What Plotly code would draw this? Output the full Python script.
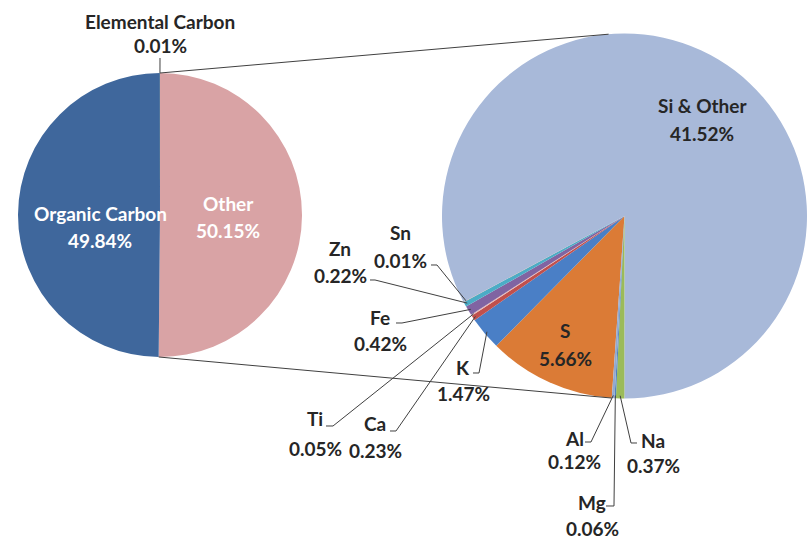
import math
import plotly.graph_objects as go

W, H = 807, 541

# ---------------- data ----------------
main_labels = ["Other", "Organic Carbon", "Elemental Carbon"]
main_values = [50.15, 49.84, 0.01]

sub_labels = ["S", "K", "Ca", "Ti", "Fe", "Zn", "Sn", "Si & Other", "Na", "Mg", "Al"]
sub_values = [5.66, 1.47, 0.23, 0.05, 0.42, 0.22, 0.01, 41.52, 0.37, 0.06, 0.12]

# ---------------- style ----------------
main_colors = ["#D9A3A5", "#3F679C", "#9BBB59"]
sub_colors = ["#DB7B36", "#4A7FC6", "#C0504D", "#E6B9B8", "#8064A2",
              "#4BACC6", "#F79646", "#A8B9D9", "#9BBB59", "#4F81BD", "#93A9CF"]

FONT = "Lato"
FS = 19
DARK = "#262626"
LINE = "#404040"

MAIN_C = (160, 215)
MAIN_R = 142
SUB_X0 = 442
SUB_CY = 216
SUB_HALF = (W - SUB_X0) / 2.0
SUB_C = ((SUB_X0 + W) / 2.0, SUB_CY)
SUB_R = SUB_HALF
SUB_ROT = 184

# label positions (pixels): name centre, value centre, text colour
main_label_pos = {
    "Other": (228, 203, 230, "white"),
    "Organic Carbon": (100, 213, 240, "white"),
    "Elemental Carbon": (160, 22, 46, DARK),
}
sub_label_pos = {
    "Si & Other": (702, 105, 133),
    "S": (565, 330, 358),
    "K": (463, 367, 393),
    "Ca": (375, 423, 450),
    "Ti": (315, 418, 448),
    "Fe": (380, 317, 343),
    "Zn": (340, 248, 275),
    "Sn": (400, 232, 260),
    "Na": (653, 440, 465),
    "Mg": (592, 502, 528),
    "Al": (574, 438, 461),
}
# leader line start points (pixels) near the labels
leader_start = {
    "Elemental Carbon": [(160, 58)],
    "Sn": [(431, 265), (437, 265)],
    "Zn": [(370, 280), (375, 280)],
    "Fe": [(396, 323), (402, 323)],
    "Ti": [(326, 426), (333, 426)],
    "Ca": [(390, 431), (396, 431)],
    "K": [(473, 373), (479, 373)],
    "Al": [(585, 442), (591, 442)],
    "Mg": [(606, 506), (614, 506)],
    "Na": [(637, 443), (631, 443)],
}


def px(x):
    return x / W


def py(y):
    return 1 - y / H


def slice_angles(values, rotation):
    tot = sum(values)
    out = []
    a = rotation
    for v in values:
        b = a + v / tot * 360.0
        out.append((a, b))
        a = b
    return out


def on_circle(c, r, ang):
    t = math.radians(ang)
    return (c[0] + r * math.sin(t), c[1] - r * math.cos(t))


fig = go.Figure()

fig.add_trace(go.Pie(
    labels=main_labels, values=main_values, sort=False, direction="clockwise",
    rotation=0, textinfo="none", hoverinfo="label+value",
    marker=dict(colors=main_colors, line=dict(width=0)),
    domain=dict(x=[px(MAIN_C[0] - MAIN_R), px(MAIN_C[0] + MAIN_R)],
                y=[py(MAIN_C[1] + MAIN_R), py(MAIN_C[1] - MAIN_R)]),
    showlegend=False,
))

fig.add_trace(go.Pie(
    labels=sub_labels, values=sub_values, sort=False, direction="clockwise",
    rotation=SUB_ROT, textinfo="none", hoverinfo="label+value",
    marker=dict(colors=sub_colors, line=dict(width=0)),
    domain=dict(x=[px(SUB_X0), 1.0],
                y=[py(SUB_CY + SUB_HALF), py(SUB_CY - SUB_HALF)]),
    showlegend=False,
))

annotations = []
shapes = []


def add_label(name, value, xn, yn, yv, color):
    for txt, yy in ((name, yn), (f"{value:.2f}%", yv)):
        annotations.append(dict(
            x=px(xn), y=py(yy), xref="paper", yref="paper", text=txt,
            showarrow=False, xanchor="center", yanchor="middle",
            font=dict(family=FONT, size=FS, color=color, weight="bold"),
        ))


def add_path(points):
    d = "M " + " L ".join(f"{px(x):.5f},{py(y):.5f}" for x, y in points)
    shapes.append(dict(type="path", path=d, xref="paper", yref="paper",
                       line=dict(color=LINE, width=1)))


main_ang = slice_angles(main_values, 0)
for name, val, (a0, a1) in zip(main_labels, main_values, main_ang):
    xn, yn, yv, col = main_label_pos[name]
    add_label(name, val, xn, yn, yv, col)
    if name in leader_start:
        add_path(leader_start[name] + [on_circle(MAIN_C, MAIN_R, (a0 + a1) / 2)])

sub_ang = slice_angles(sub_values, SUB_ROT)
for name, val, (a0, a1) in zip(sub_labels, sub_values, sub_ang):
    xn, yn, yv = sub_label_pos[name]
    add_label(name, val, xn, yn, yv, DARK)
    if name in leader_start:
        add_path(leader_start[name] + [on_circle(SUB_C, SUB_R * 0.985, (a0 + a1) / 2)])

# connector lines between the two pies
other_end = main_ang[0][1]
add_path([on_circle(MAIN_C, MAIN_R, main_ang[0][0]), on_circle(SUB_C, SUB_R, -5)])
add_path([on_circle(MAIN_C, MAIN_R, other_end), on_circle(SUB_C, SUB_R, SUB_ROT)])

fig.update_layout(
    width=W, height=H, margin=dict(l=0, r=0, t=0, b=0),
    paper_bgcolor="white", plot_bgcolor="white",
    annotations=annotations, shapes=shapes, showlegend=False,
)

fig.write_html("out.html", config={"displayModeBar": False},
               post_script="document.body.style.margin='0';document.body.style.overflow='hidden';")
